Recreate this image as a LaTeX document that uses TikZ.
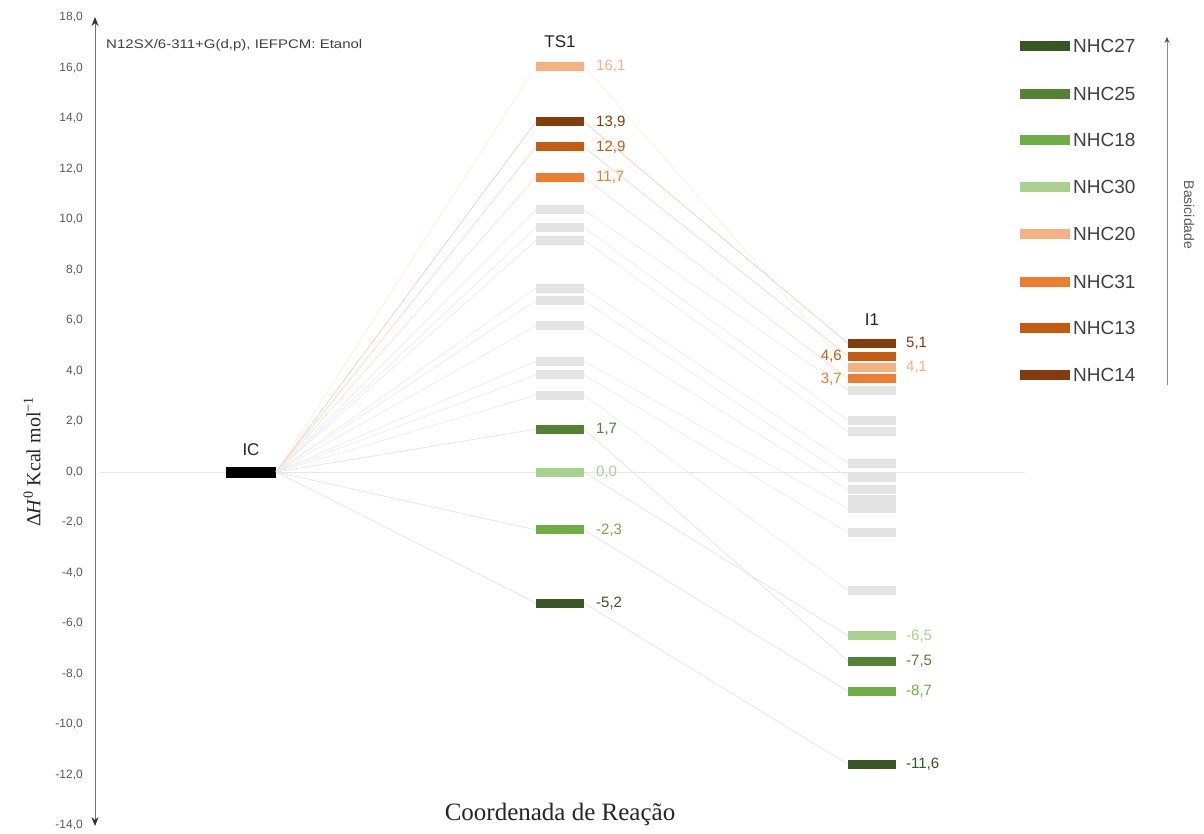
\documentclass[tikz,border=0pt]{standalone}
\usepackage{fontspec}
\setmainfont{Liberation Sans}
\newfontfamily\serifA{Liberation Serif}
\usetikzlibrary{arrows.meta}
\definecolor{cA}{HTML}{375623}
\definecolor{cB}{HTML}{548235}
\definecolor{cC}{HTML}{70AD47}
\definecolor{cD}{HTML}{A9D18E}
\definecolor{cE}{HTML}{F4B183}
\definecolor{cF}{HTML}{ED7D31}
\definecolor{cG}{HTML}{C55A11}
\definecolor{cH}{HTML}{843C0C}
\definecolor{txt}{HTML}{595959}
\definecolor{lgray}{HTML}{E4E4E4}
\begin{document}
\begin{tikzpicture}[x=1pt,y=-1pt,
 declare function={Y(\v)=472-25.2*\v;},
 lvl/.style={minimum width=48pt,minimum height=9pt,inner sep=0pt,outer sep=0pt,fill=#1},
 glvl/.style={lvl=lgray},
 val/.style={font=\fontsize{15}{15}\selectfont,text=#1,inner sep=0pt},
 conn/.style={line width=0.7pt,draw=#1},
 tick/.style={font=\fontsize{12}{12}\selectfont,text=txt,anchor=east,inner sep=0pt},
 head/.style={font=\fontsize{17}{17}\selectfont,text=black!85,inner sep=0pt},
 leg/.style={font=\fontsize{19}{19}\selectfont,text=black!75,anchor=west,inner sep=0pt},
 legbar/.style={minimum width=50pt,minimum height=10pt,inner sep=0pt,fill=#1},
]
\useasboundingbox[fill=white] (0,0) rectangle (1204,833);

% zero line
\coordinate (z0) at (100,472);
\coordinate (z1) at (1025,472);
\draw[black!10,line width=0.6pt] (z0) -- (z1);

% y axis
\coordinate (ax0) at (95,826);
\coordinate (ax1) at (95,17);
\draw[{Stealth[length=9pt,width=7pt,black!80]}-{Stealth[length=9pt,width=7pt,black!80]},line width=0.9pt,black!55] (ax0) -- (ax1);
\foreach \v in {18,16,...,-14}{
  \node[tick] (t\v) at (83,{472-25.25*\v}) {\v,0};
}
\node[rotate=90,font=\serifA\fontsize{20}{20}\selectfont,text=black!85] (ylab) at (32,462)
  {Δ\textit{H}\textsuperscript{0} Kcal mol\textsuperscript{−1}};
\node[font=\serifA\fontsize{25}{25}\selectfont,text=black!85] (xlab) at (560,814) {Coordenada de Reação};
\node[anchor=west,font=\fontsize{12.5}{12.5}\selectfont,text=black!75,inner sep=0pt,xscale=1.2,transform shape] (meth) at (106,45)
  {N12SX/6-311+G(d,p), IEFPCM: Etanol};

% IC
\node[lvl=black,minimum width=50pt,minimum height=11pt] (ic) at (251,472) {};
\node[head] (icl) at (251,450) {IC};

% TS1 grey levels
\foreach \n/\v in {1/10.4,2/9.7,3/9.2,4/7.3,5/6.8,6/5.8,7/4.4,8/3.85,9/3.05}{
  \node[glvl] (tg\n) at (560,{Y(\v)}) {};
}
% I1 grey levels
\foreach \n/\v in {1/3.25,2/2.05,3/1.6,4/0.35,5/-0.2,6/-0.7,7/-1.1,8/-1.45,9/-2.4,10/-4.7}{
  \node[glvl] (ig\n) at (872,{Y(\v)}) {};
}
% grey connectors
\foreach \a/\b in {1/1,2/2,3/3,4/4,5/5,6/6,7/8,8/9,9/10}{
  \draw[conn=black!7] (ic.east) -- (tg\a.west);
  \draw[conn=black!7] (tg\a.east) -- (ig\b.west);
}

% TS1 coloured levels
\node[lvl=cE] (t20) at (560,{Y(16.1)}) {};
\node[lvl=cH] (t14) at (560,{Y(13.9)}) {};
\node[lvl=cG] (t13) at (560,{Y(12.9)}) {};
\node[lvl=cF] (t31) at (560,{Y(11.7)}) {};
\node[lvl=cB] (t25) at (560,{Y(1.7)}) {};
\node[lvl=cD] (t30) at (560,{Y(0.0)}) {};
\node[lvl=cC] (t18) at (560,{Y(-2.3)}) {};
\node[lvl=cA] (t27) at (560,{Y(-5.2)}) {};
\node[head] (tsl) at (560,42) {TS1};

% I1 coloured levels
\node[lvl=cH] (i14) at (872,{Y(5.1)}) {};
\node[lvl=cG] (i13) at (872,{Y(4.6)}) {};
\node[lvl=cE] (i20) at (872,{Y(4.15)}) {};
\node[lvl=cF] (i31) at (872,{Y(3.7)}) {};
\node[lvl=cD] (i30) at (872,{Y(-6.5)}) {};
\node[lvl=cB] (i25) at (872,{Y(-7.5)}) {};
\node[lvl=cC] (i18) at (872,{Y(-8.7)}) {};
\node[lvl=cA] (i27) at (872,{Y(-11.6)}) {};
\node[head] (i1l) at (872,320) {I1};

% coloured connectors
\foreach \k/\c in {20/cE,14/cH,13/cG,31/cF}{
  \draw[conn=\c!22] (ic.east) -- (t\k.west);
  \draw[conn=\c!22] (t\k.east) -- (i\k.west);
}
\foreach \k in {25,30,18,27}{
  \draw[conn=black!10] (ic.east) -- (t\k.west);
  \draw[conn=black!10] (t\k.east) -- (i\k.west);
}

% value labels TS1
\node[val=cE,anchor=west] (vt20) at ([xshift=12pt]t20.east) {16,1};
\node[val=cH,anchor=west] (vt14) at ([xshift=12pt]t14.east) {13,9};
\node[val=cG,anchor=west] (vt13) at ([xshift=12pt]t13.east) {12,9};
\node[val=cF,anchor=west] (vt31) at ([xshift=12pt]t31.east) {11,7};
\node[val=cB,anchor=west] (vt25) at ([xshift=12pt]t25.east) {1,7};
\node[val=cD,anchor=west] (vt30) at ([xshift=12pt]t30.east) {0,0};
\node[val=cC,anchor=west] (vt18) at ([xshift=12pt]t18.east) {-2,3};
\node[val=cA,anchor=west] (vt27) at ([xshift=12pt]t27.east) {-5,2};

% value labels I1
\node[val=cH,anchor=west] (vi14) at ([xshift=10pt]i14.east) {5,1};
\node[val=cG,anchor=east] (vi13) at ([xshift=-6pt]i13.west) {4,6};
\node[val=cE,anchor=west] (vi20) at ([xshift=10pt]i20.east) {4,1};
\node[val=cF,anchor=east] (vi31) at ([xshift=-6pt]i31.west) {3,7};
\node[val=cD,anchor=west] (vi30) at ([xshift=10pt]i30.east) {-6,5};
\node[val=cB,anchor=west] (vi25) at ([xshift=10pt]i25.east) {-7,5};
\node[val=cC,anchor=west] (vi18) at ([xshift=10pt]i18.east) {-8,7};
\node[val=cA,anchor=west] (vi27) at ([xshift=10pt]i27.east) {-11,6};

% legend
\foreach \n/\c/\y in {NHC27/cA/46,NHC25/cB/94,NHC18/cC/140,NHC30/cD/187,NHC20/cE/234,NHC31/cF/282,NHC13/cG/328,NHC14/cH/375}{
  \node[legbar=\c] (lb\n) at (1045,\y) {};
  \node[leg] (lt\n) at (1073,\y) {\n};
}
\coordinate (ba0) at (1167,385);
\coordinate (ba1) at (1167,37);
\draw[-{Stealth[length=6pt,width=5pt,black!70]},line width=0.7pt,black!45] (ba0) -- (ba1);
\node[rotate=-90,font=\fontsize{14}{14}\selectfont,text=txt] (bas) at (1189,215) {Basicidade};
\end{tikzpicture}
\end{document}
